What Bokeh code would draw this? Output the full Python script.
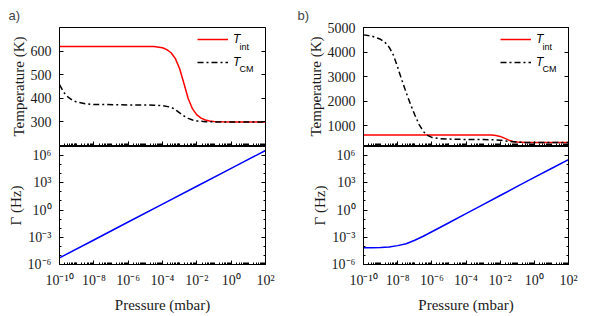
from bokeh.plotting import figure
from bokeh.models import (FixedTicker, LinearAxis, LogAxis, Legend, LegendItem,
                          Label, Range1d, CustomJSTickFormatter)
from bokeh.layouts import row, column
from bokeh.embed import file_html
from bokeh.resources import INLINE

# ---------------- data ----------------
# panel a) temperatures (K) vs log10 pressure (mbar)
a_tint_log10p = [-10, -6, -4.5, -4, -3.75, -3.5, -3.25, -3, -2.75, -2.5, -2.25, -2, -1.75, -1.5, -1.25, -1, -0.5, 0, 2]
a_tint_K = [620, 620, 619, 614, 606, 593, 568, 525, 463, 398, 355, 330, 316, 308, 304, 302, 300.5, 300, 300]
a_tcm_log10p = [-10, -9.75, -9.5, -9.25, -9, -8.5, -8, -6, -4.5, -4, -3.5, -3.25, -3, -2.75, -2.5, -2.25, -2, -1.5, -1, 0, 2]
a_tcm_K = [458, 425, 405, 392, 384, 377, 374, 372, 371, 369, 362, 352, 338, 325, 315, 308, 304, 301, 300, 300, 300]
# panel a) damping rate Gamma (log10 Hz)
a_gamma_log10p = [-10, -8, -6, -4, -2, 0, 2]
a_gamma_log10Hz = [-5.27, -3.30, -1.32, 0.65, 2.62, 4.59, 6.56]

# panel b)
b_tint_log10p = [-10, -3, -2.5, -2.25, -2, -1.75, -1.5, -1.25, -1, -0.5, 0, 2]
b_tint_K = [630, 630, 624, 610, 570, 500, 420, 365, 338, 324, 320, 320]
b_tcm_log10p = [-10, -9.5, -9, -8.75, -8.5, -8.25, -8, -7.75, -7.5, -7.25, -7, -6.75, -6.5, -6.25, -6,
                -5.5, -5, -4, -3, -2.5, -2, -1.5, -1, -0.5, 0, 2]
b_tcm_K = [4700, 4650, 4520, 4400, 4200, 3880, 3380, 2850, 2350, 1880, 1450, 1060, 770, 610, 530,
           480, 460, 445, 440, 435, 410, 370, 335, 322, 320, 320]
b_gamma_log10p = [-10, -9.5, -9, -8.5, -8, -7.5, -7, -6.5, -6, -5.5, -5, -4, -3, -2, -1, 0, 1, 2]
b_gamma_log10Hz = [-4.16, -4.15, -4.13, -4.07, -3.92, -3.71, -3.33, -2.89, -2.39, -1.90, -1.40,
                   -0.40, 0.60, 1.60, 2.60, 3.60, 4.58, 5.55]

# tick labels / positions
x_major = [1e-10, 1e-8, 1e-6, 1e-4, 1e-2, 1e0, 1e2]
gamma_major = [1e-6, 1e-3, 1e0, 1e3, 1e6]
a_temp_ticks = [300, 400, 500, 600]
b_temp_ticks = [1000, 2000, 3000, 4000, 5000]

legend_labels = ["T", "T"]
legend_subs = ["int", "CM"]
panel_tags = ["a)", "b)"]


def pw(vals):
    return [10.0 ** v for v in vals]


SERIF = "Liberation Serif"
SANS = "Liberation Sans"
RED = "#ff0000"
BLUE = "#0000ff"

x_minor = [k * 10.0 ** n for n in range(-10, 2) for k in range(1, 10) if not (k == 1 and n % 2 == 0)]
g_minor = [10.0 ** n for n in range(-6, 8) if n % 3 != 0]

SUP_JS = """
const m = {"-":"\\u207B","0":"\\u2070","1":"\\u00B9","2":"\\u00B2","3":"\\u00B3","4":"\\u2074",
           "5":"\\u2075","6":"\\u2076","7":"\\u2077","8":"\\u2078","9":"\\u2079"};
const e = Math.round(Math.log10(tick));
return "10" + String(e).split("").map(c => m[c]).join("");
"""


def style_axis(ax, show_labels=True):
    ax.major_tick_in = 4
    ax.major_tick_out = 0
    ax.minor_tick_in = 2
    ax.minor_tick_out = 0
    ax.axis_line_color = "black"
    ax.major_tick_line_color = "black"
    ax.minor_tick_line_color = "black"
    ax.major_label_text_font = SERIF
    ax.major_label_text_color = "#1a1a1a"
    ax.axis_label_text_font = SERIF
    ax.axis_label_text_font_size = "15px"
    ax.axis_label_text_font_style = "normal"
    ax.axis_label_text_color = "#1a1a1a"
    ax.axis_label_standoff = 1
    if show_labels:
        ax.major_label_text_font_size = "14px"
        ax.major_label_standoff = 8
    else:
        ax.major_label_text_font_size = "1px"
        ax.major_label_text_alpha = 0.0
        ax.major_label_standoff = 0


def base_fig(w, h, ml, mr, mt, mb, y_range, y_type):
    p = figure(x_axis_type="log", y_axis_type=y_type, x_range=Range1d(1e-10, 1e2), y_range=y_range,
               width=w, height=h, min_border_left=ml, min_border_right=mr,
               min_border_top=mt, min_border_bottom=mb, output_backend="svg", toolbar_location=None,
               background_fill_color="white", border_fill_color="white")
    p.grid.visible = False
    p.outline_line_color = "black"
    p.outline_line_alpha = 1.0
    p.outline_line_width = 1
    return p


def make_panel(fw, ml, mr, y0, y1, tticks, tint_p, tint, tcm_p, tcm, g_p, g, tag, tag_dx):
    w = ml + fw + mr
    # --- temperature panel ---
    top = base_fig(w, 27 + 118 + 1, ml, mr, 27, 1, Range1d(y0, y1), "linear")
    top.title.text = tag
    top.title.align = "left"
    top.title.offset = tag_dx
    top.title.standoff = 10
    top.title.text_font = SANS
    top.title.text_font_size = "13px"
    top.title.text_font_style = "normal"
    top.xaxis.ticker = FixedTicker(ticks=x_major, minor_ticks=x_minor)
    style_axis(top.xaxis[0], show_labels=False)
    top.yaxis.ticker = FixedTicker(ticks=tticks)
    style_axis(top.yaxis[0])
    top.yaxis.axis_label = "Temperature (K)"
    top.yaxis.minor_tick_line_color = None
    rax = LinearAxis(ticker=FixedTicker(ticks=tticks))
    style_axis(rax, show_labels=False)
    rax.minor_tick_line_color = None
    top.add_layout(rax, "right")

    r1 = top.line(pw(tint_p), tint, line_color=RED, line_width=1.5)
    r2 = top.line(pw(tcm_p), tcm, line_color="black", line_width=1.5, line_dash="6 3 2 3")
    leg = Legend(items=[LegendItem(label=legend_labels[0], renderers=[r1]),
                        LegendItem(label=legend_labels[1], renderers=[r2])],
                 location=(fw - 68, 73), glyph_width=31, glyph_height=20, label_height=20,
                 spacing=3, padding=0, margin=0, border_line_color=None,
                 background_fill_alpha=0, label_text_font=SANS, label_text_font_style="italic",
                 label_text_font_size="12px", label_standoff=5, label_text_color="black")
    top.add_layout(leg)
    top.add_layout(Label(x=fw - 26, y=98.5, x_units="screen", y_units="screen", text=legend_subs[0],
                         text_font=SANS, text_font_size="9px", text_color="black",
                         text_baseline="alphabetic"))
    top.add_layout(Label(x=fw - 26, y=77, x_units="screen", y_units="screen", text=legend_subs[1],
                         text_font=SANS, text_font_size="9px", text_color="black",
                         text_baseline="alphabetic"))

    # --- damping panel ---
    bot = base_fig(w, 119 + 50, ml, mr, 0, 50, Range1d(1e-6, 1e7), "log")
    bot.xaxis.ticker = FixedTicker(ticks=x_major, minor_ticks=x_minor)
    bot.xaxis.formatter = CustomJSTickFormatter(code=SUP_JS)
    style_axis(bot.xaxis[0])
    bot.xaxis.axis_label = "Pressure (mbar)"
    bot.xaxis.axis_label_standoff = 6
    bot.yaxis.ticker = FixedTicker(ticks=gamma_major, minor_ticks=g_minor)
    bot.yaxis.formatter = CustomJSTickFormatter(code=SUP_JS)
    style_axis(bot.yaxis[0])
    bot.yaxis.axis_label = "\u0393 (Hz)"
    rax2 = LogAxis(ticker=FixedTicker(ticks=gamma_major, minor_ticks=g_minor))
    style_axis(rax2, show_labels=False)
    bot.add_layout(rax2, "right")
    bot.line(pw(g_p), pw(g), line_color=BLUE, line_width=1.5)
    return column(top, bot)


pa = make_panel(206, 59, 25, 200, 700, a_temp_ticks, a_tint_log10p, a_tint_K, a_tcm_log10p, a_tcm_K,
                a_gamma_log10p, a_gamma_log10Hz, panel_tags[0], -51)
pb = make_panel(205, 73, 22, 200, 5000, b_temp_ticks, b_tint_log10p, b_tint_K, b_tcm_log10p, b_tcm_K,
                b_gamma_log10p, b_gamma_log10Hz, panel_tags[1], -66)

layout = row(pa, pb)
open("out.html", "w").write(file_html(layout, INLINE))
